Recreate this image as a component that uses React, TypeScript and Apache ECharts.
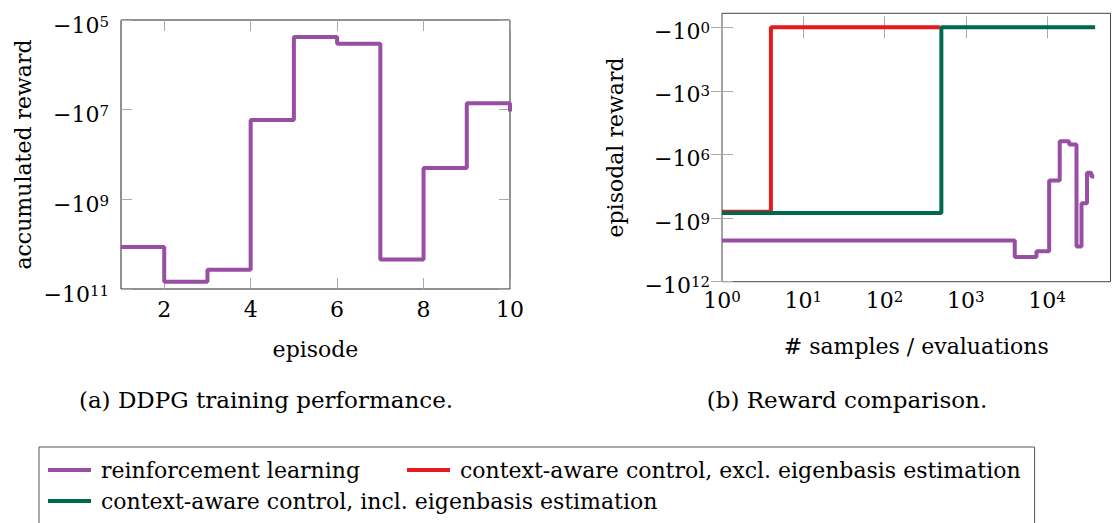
import React, { useEffect, useRef } from "react";
import * as echarts from "echarts";

// ---- data ----
const episodes = [1, 2, 3, 4, 5, 6, 7, 8, 9, 10];
const rlReward = [-1.15e10, -6.9e10, -3.7e10, -1.7e7, -2.4e5, -3.4e5, -2.2e10, -2.0e8, -7.2e6, -1.1e7];
const rlSamples = [1, 4000, 7400, 10600, 14300, 18700, 23000, 26500, 31000, 35000, 38000];
const exclSamples = [1, 4, 480];
const exclReward = [-5.0e8, -1, -1];
const inclSamples = [1, 500, 39000];
const inclReward = [-5.8e8, -1, -1];

const leftXTicks = [2, 4, 6, 8, 10];
const leftYTickExp = [5, 7, 9, 11];
const rightXTickExp = [0, 1, 2, 3, 4];
const rightYTickExp = [0, 3, 6, 9, 12];

const NAME_RL = "reinforcement learning";
const NAME_EXCL = "context-aware control, excl. eigenbasis estimation";
const NAME_INCL = "context-aware control, incl. eigenbasis estimation";

const PURPLE = "#984ea3";
const RED = "#e41a1c";
const GREEN = "#00684d";

const FONT = "DejaVu Serif";

const negExp = (r: number) => Math.log10(-r);
const lg = (x: number) => Math.log10(x);

const rich = {
  m: { fontFamily: FONT, fontSize: 22, lineHeight: 22, color: "#000", verticalAlign: "bottom" },
  s: { fontFamily: FONT, fontSize: 15, lineHeight: 10, color: "#000", verticalAlign: "top" },
};

const tickStyle = (vals: number[]) => ({
  show: true,
  inside: true,
  length: 11,
  customValues: vals,
  lineStyle: { color: "#aaaaaa", width: 1 },
});

export default function App() {
  const ref = useRef<HTMLDivElement>(null);

  useEffect(() => {
    if (!ref.current) return;
    const chart = echarts.init(ref.current, null, { renderer: "svg" });

    const leftData = episodes.map((e, i) => [e, negExp(rlReward[i])]);
    const rightRL = rlSamples.map((s, i) => [lg(s), negExp(rlReward[Math.min(i, rlReward.length - 1)])]);
    const rightExcl = exclSamples.map((s, i) => [lg(s), negExp(exclReward[i])]);
    const rightIncl = inclSamples.map((s, i) => [lg(s), negExp(inclReward[i])]);

    const option: any = {
      animation: false,
      backgroundColor: "#ffffff",
      textStyle: { fontFamily: FONT },
      grid: [
        { left: 121, right: 603, top: 20, bottom: 234, show: true, borderColor: "#222", borderWidth: 1, outerBoundsMode: "none" },
        { left: 722, right: 2.5, top: 13.3, bottom: 241.3, show: true, borderColor: "#444", borderWidth: 1, outerBoundsMode: "none" },
      ],
      xAxis: [
        {
          gridIndex: 0, type: "value", min: 1, max: 10,
          axisLine: { show: false }, splitLine: { show: false },
          axisTick: tickStyle(leftXTicks),
          axisLabel: { customValues: leftXTicks, margin: 9, fontFamily: FONT, fontSize: 22, color: "#000" },
          name: "episode", nameLocation: "middle", nameGap: 49, nameMoveOverlap: false,
          nameTextStyle: { fontFamily: FONT, fontSize: 22, color: "#000" },
        },
        {
          gridIndex: 0, type: "value", min: 1, max: 10, position: "top",
          axisLine: { show: false }, splitLine: { show: false },
          axisTick: tickStyle(leftXTicks), axisLabel: { show: false },
        },
        {
          gridIndex: 1, type: "value", min: 0, max: 4.78,
          axisLine: { show: false }, splitLine: { show: false },
          axisTick: tickStyle(rightXTickExp),
          axisLabel: {
            customValues: rightXTickExp, margin: 8,
            formatter: (v: number) => `{m|10}{s|${v}}`, rich,
          },
          name: "# samples / evaluations", nameLocation: "middle", nameGap: 54, nameMoveOverlap: false,
          nameTextStyle: { fontFamily: FONT, fontSize: 22, color: "#000" },
        },
        {
          gridIndex: 1, type: "value", min: 0, max: 4.78, position: "top",
          axisLine: { show: false }, splitLine: { show: false },
          axisTick: tickStyle(rightXTickExp), axisLabel: { show: false },
        },
      ],
      yAxis: [
        {
          gridIndex: 0, type: "value", min: 5, max: 11, inverse: true,
          axisLine: { show: false }, splitLine: { show: false },
          axisTick: tickStyle(leftYTickExp),
          axisLabel: {
            customValues: leftYTickExp, margin: 12, padding: [10, 0, 0, 0],
            formatter: (v: number) => `{m|\u221210}{s|${v}}`, rich,
          },
          name: "accumulated reward", nameLocation: "middle", nameGap: 87, nameMoveOverlap: false,
          nameTextStyle: { fontFamily: FONT, fontSize: 22, color: "#000" },
        },
        {
          gridIndex: 0, type: "value", min: 5, max: 11, inverse: true, position: "right",
          axisLine: { show: false }, splitLine: { show: false },
          axisTick: tickStyle(leftYTickExp), axisLabel: { show: false },
        },
        {
          gridIndex: 1, type: "value", min: -0.66, max: 12, inverse: true,
          axisLine: { show: false }, splitLine: { show: false },
          axisTick: tickStyle(rightYTickExp),
          axisLabel: {
            customValues: rightYTickExp, margin: 12, padding: [8, 0, 0, 0],
            formatter: (v: number) => `{m|\u221210}{s|${v}}`, rich,
          },
          name: "episodal reward", nameLocation: "middle", nameGap: 96, nameMoveOverlap: false,
          nameTextStyle: { fontFamily: FONT, fontSize: 22, color: "#000" },
        },
        {
          gridIndex: 1, type: "value", min: -0.66, max: 12, inverse: true, position: "right",
          axisLine: { show: false }, splitLine: { show: false },
          axisTick: tickStyle(rightYTickExp), axisLabel: { show: false },
        },
      ],
      legend: {
        left: 39, top: 447, width: 1000,
        orient: "horizontal",
        padding: [11, 14, 40, 9],
        itemGap: 7,
        icon: "rect", itemWidth: 43, itemHeight: 4,
        borderColor: "#555", borderWidth: 1,
        selectedMode: false,
        textStyle: { fontFamily: FONT, fontSize: 22, color: "#000", lineHeight: 24, padding: [0, 0, 0, 5] },
        data: [
          { name: NAME_RL, textStyle: { padding: [0, 40, 0, 5] } },
          { name: NAME_EXCL },
          { name: NAME_INCL },
        ],
      },
      graphic: [
        { type: "text", x: 266, y: 400, style: { text: "(a) DDPG training performance.", fontFamily: FONT, fontSize: 23, fill: "#000", align: "center", verticalAlign: "middle" } },
        { type: "text", x: 847, y: 400, style: { text: "(b) Reward comparison.", fontFamily: FONT, fontSize: 23, fill: "#000", align: "center", verticalAlign: "middle" } },
      ],
      series: [
        {
          name: NAME_RL, type: "line", xAxisIndex: 0, yAxisIndex: 0, step: "end", symbol: "none",
          data: leftData, lineStyle: { color: PURPLE, width: 4 }, itemStyle: { color: PURPLE },
        },
        {
          name: NAME_RL, type: "line", xAxisIndex: 2, yAxisIndex: 2, step: "end", symbol: "none",
          data: rightRL, lineStyle: { color: PURPLE, width: 4 }, itemStyle: { color: PURPLE },
        },
        {
          name: NAME_EXCL, type: "line", xAxisIndex: 2, yAxisIndex: 2, step: "end", symbol: "none",
          data: rightExcl, lineStyle: { color: RED, width: 4 }, itemStyle: { color: RED },
        },
        {
          name: NAME_INCL, type: "line", xAxisIndex: 2, yAxisIndex: 2, step: "end", symbol: "none",
          data: rightIncl, lineStyle: { color: GREEN, width: 4 }, itemStyle: { color: GREEN },
        },
      ],
    };

    chart.setOption(option);
    return () => chart.dispose();
  }, []);

  return (
    <div
      ref={ref}
      style={{ position: "fixed", left: 0, top: 0, width: 1113, height: 523, background: "#fff" }}
    />
  );
}
